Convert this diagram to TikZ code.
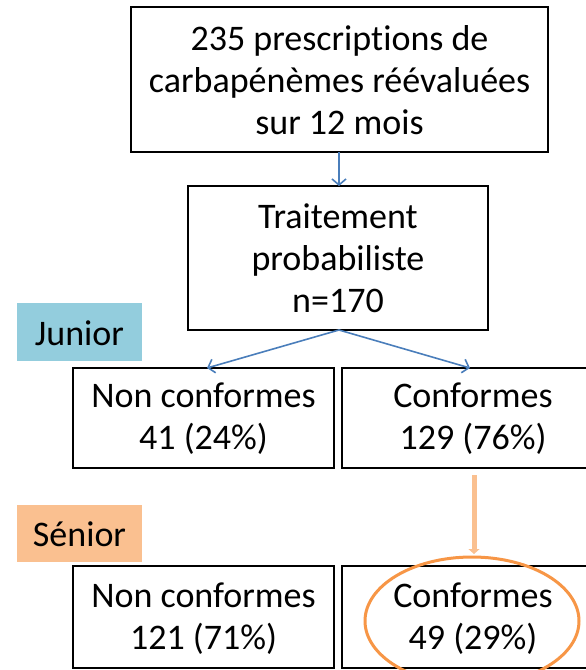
\documentclass[tikz,border=0pt]{standalone}
\usepackage{fontspec}
\setmainfont[Ligatures=NoCommon]{Carlito}
\usetikzlibrary{arrows.meta,shapes.geometric}
\definecolor{boxblue}{HTML}{4A7EBB}
\definecolor{juniorfill}{HTML}{93CDDD}
\definecolor{seniorfill}{HTML}{FAC090}
\definecolor{ringorange}{HTML}{F79646}
\begin{document}
\begin{tikzpicture}[x=1pt,y=-1pt,
  box/.style={draw=black, line width=1.8pt, fill=white, inner sep=0pt},
  txt/.style={align=center, font=\fontsize{36}{42}\selectfont, inner sep=0pt},
  tag/.style={inner sep=0pt, font=\fontsize{36}{42}\selectfont},
  bluearrow/.style={draw=boxblue, line width=1.6pt, -{Straight Barb[length=6pt,width=14pt]}},
  orangearrow/.style={draw=seniorfill, line width=5pt, -{Triangle[length=5pt,width=11pt]}},
]
\useasboundingbox (0,0) rectangle (586,670);
\begin{scope}
\clip (0,0) rectangle (586,670);
% boxes
\draw[box] (131,7) rectangle (548,152);
\node[txt] (top) at (339.5,80) {235 prescriptions de\\carbapénèmes réévaluées\\sur 12 mois};
\coordinate (topS) at (339,152);
\draw[box] (188,186) rectangle (488,330);
\node[txt] (prob) at (338,258) {Traitement\\probabiliste\\n=170};
\coordinate (probN) at (339,186);
\coordinate (probS) at (339,330);
% labels
\fill[juniorfill] (17,303) rectangle (142,361);
\node[tag] (junior) at (79.5,333) {Junior};
\fill[seniorfill] (17,505) rectangle (142,562);
\node[tag] (senior) at (79.5,534) {Sénior};
% row 2
\draw[box] (73,368) rectangle (334,468);
\node[txt] (jnc) at (203.5,419) {Non conformes\\41 (24\%)};
\draw[box] (342,368) rectangle (604,468);
\node[txt] (jc) at (473,419) {Conformes\\129 (76\%)};
\coordinate (jncN) at (207,368);
\coordinate (jcN) at (470,368);
\coordinate (jcS) at (474,475);
% row 3
\draw[box] (73,566) rectangle (334,668);
\node[txt] (snc) at (203.5,619) {Non conformes\\121 (71\%)};
\draw[box] (342,566) rectangle (604,668);
\node[txt] (sc) at (473,619) {Conformes\\49 (29\%)};
\coordinate (scN) at (474,554);
% ellipse highlight
\node[draw=ringorange, line width=3pt, ellipse, minimum width=214pt, minimum height=128pt, inner sep=0pt] (ring) at (472,621) {};
% connectors
\draw[bluearrow] (topS) -- (probN);
\draw[bluearrow] (probS) -- (jncN);
\draw[bluearrow] (probS) -- (jcN);
\draw[orangearrow] (jcS) -- (scN);
\end{scope}
\end{tikzpicture}
\end{document}
